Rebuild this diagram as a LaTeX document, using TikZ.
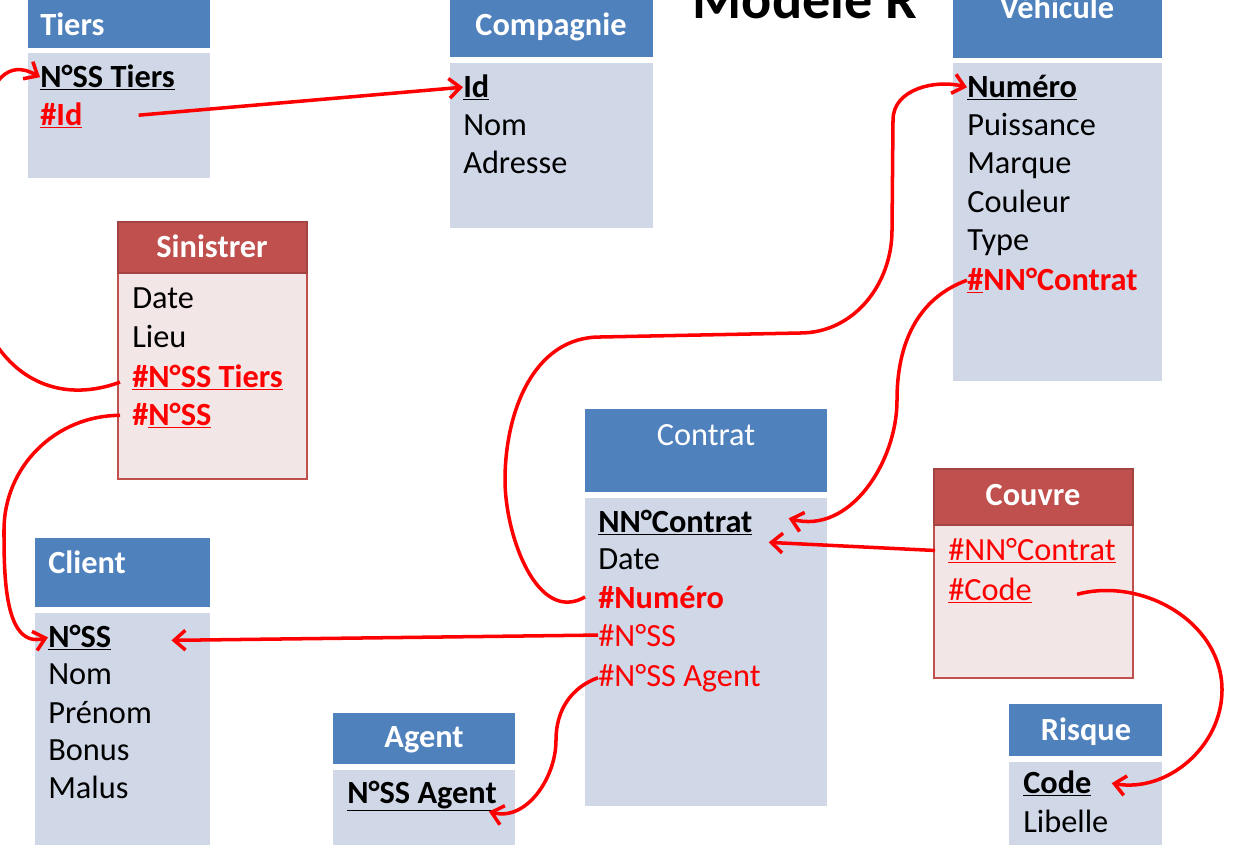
\documentclass[tikz,border=0pt]{standalone}
\usepackage{fontspec}
\setmainfont{Carlito}
\usetikzlibrary{arrows.meta,calc}
\definecolor{hdblue}{HTML}{4F81BD}
\definecolor{bdblue}{HTML}{D0D8E8}
\definecolor{hdred}{HTML}{C0504D}
\definecolor{bdred}{HTML}{F2E6E6}

\begin{document}
\begin{tikzpicture}[x=0.025cm,y=0.025cm,
  fld/.style={anchor=base west,inner sep=0pt,font=\fontsize{23}{27}\selectfont},
  fk/.style={fld,text=red},
  hd/.style={anchor=base,inner sep=0pt,text=white,font=\fontsize{23}{27}\selectfont\bfseries},
  link/.style={draw=red,line width=2.5pt,-{Straight Barb[length=8pt,width=14pt]}}]

\clip (0,0) rectangle (1246,-844);

% tables
\fill[hdblue] (28,0) rectangle (210,-48);
\fill[bdblue] (28,-53) rectangle (210,-178);
\fill[hdblue] (450,0) rectangle (653,-57);
\fill[bdblue] (450,-63) rectangle (653,-228);
\fill[hdblue] (953,0) rectangle (1162,-58);
\fill[bdblue] (953,-63) rectangle (1162,-381);
\filldraw[fill=bdred,draw=hdred,line width=0.8pt] (118,-273) rectangle (307,-479);
\filldraw[fill=hdred,draw=hdred!85!black,line width=0.8pt] (118,-222) rectangle (307,-273);
\fill[hdblue] (35,-538) rectangle (210,-607);
\fill[bdblue] (35,-613) rectangle (210,-850);
\fill[hdblue] (585,-409) rectangle (827,-492);
\fill[bdblue] (585,-498) rectangle (827,-806);
\filldraw[fill=bdred,draw=hdred,line width=0.8pt] (934,-525) rectangle (1133,-678);
\filldraw[fill=hdred,draw=hdred!85!black,line width=0.8pt] (934,-469) rectangle (1133,-525);
\fill[hdblue] (1009,-704) rectangle (1162,-756);
\fill[bdblue] (1009,-762) rectangle (1162,-850);
\fill[hdblue] (333,-713) rectangle (515,-764);
\fill[bdblue] (333,-770) rectangle (515,-850);

\node[anchor=base,font=\fontsize{40}{44}\selectfont\bfseries] (titre) at (805,-18) {Modèle R};

\node[hd,anchor=base west] (tiers) at (40,-35) {Tiers};
\node[fld] (tiers-nss) at (40,-87) {\underline{\textbf{N°SS Tiers}}};
\node[fk] (tiers-id) at (40,-125) {\underline{\textbf{\#Id}}};

\node[hd] (comp) at (551,-35) {Compagnie};
\node[fld] (comp-id) at (463,-97) {\underline{\textbf{Id}}};
\node[fld] (comp-nom) at (463,-135) {Nom};
\node[fld] (comp-adr) at (463,-173) {Adresse};

\node[hd] (veh) at (1057,-18) {Véhicule};
\node[fld] (veh-num) at (967,-97) {\underline{\textbf{Numéro}}};
\node[fld] (veh-puis) at (967,-135) {Puissance};
\node[fld] (veh-marq) at (967,-173) {Marque};
\node[fld] (veh-coul) at (967,-212) {Couleur};
\node[fld] (veh-type) at (967,-250) {Type};
\node[fk] (veh-nnc) at (967,-290) {\textbf{\underline{\#}NN°Contrat}};

\node[hd] (sin) at (212,-257) {Sinistrer};
\node[fld] (sin-date) at (132,-308) {Date};
\node[fld] (sin-lieu) at (132,-347) {Lieu};
\node[fk] (sin-tiers) at (132,-387) {\underline{\textbf{\#N°SS Tiers}}};
\node[fk] (sin-nss) at (132,-425) {\textbf{\#\underline{N°SS}}};

\node[hd,anchor=base west] (client) at (48,-573) {Client};
\node[fld] (client-nss) at (48,-647) {\underline{\textbf{N°SS}}};
\node[fld] (client-nom) at (48,-684) {Nom};
\node[fld] (client-pre) at (48,-723) {Prénom};
\node[fld] (client-bon) at (48,-760) {Bonus};
\node[fld] (client-mal) at (48,-798) {Malus};

\node[hd,font=\fontsize{23}{27}\selectfont] (contrat) at (706,-445) {Contrat};
\node[fld] (contrat-nnc) at (598,-532) {\underline{\textbf{NN°Contrat}}};
\node[fld] (contrat-date) at (598,-569) {Date};
\node[fk] (contrat-num) at (598,-608) {\textbf{\#Numéro}};
\node[fk] (contrat-nss) at (598,-646) {\#N°SS};
\node[fk] (contrat-nssa) at (598,-686) {\#N°SS Agent};

\node[hd] (couv) at (1033,-505) {Couvre};
\node[fk] (couv-nnc) at (948,-560) {\underline{\#NN°Contrat}};
\node[fk] (couv-code) at (948,-600) {\underline{\#Code}};

\node[hd] (risque) at (1086,-740) {Risque};
\node[fld] (risque-code) at (1023,-793) {\underline{\textbf{Code}}};
\node[fld] (risque-lib) at (1023,-832) {Libelle};

\node[hd] (agent) at (424,-747) {Agent};
\node[fld] (agent-nss) at (347,-803) {\underline{\textbf{N°SS Agent}}};

% links
\draw[link] ($(sin-tiers.west)+(-12,-5)$) to[out=200,in=-90,looseness=1.2] (-30,-250) to[out=90,in=150] (tiers-nss.west);
\draw[link] ($(tiers-id.east)+(56,0)$) -- (comp-id.west);
\draw[link] ($(contrat-num.west)+(-13,0)$) to[out=-150,in=-90] (505,-480) to[out=90,in=180] (600,-337)
  -- (800,-333) to[out=0,in=-90] (892,-230) -- (893,-120) to[out=90,in=165] (veh-num.west);
\draw[link] (veh-nnc.west) to[out=200,in=90] (897,-400) to[out=-90,in=-15] ($(contrat-nnc.east)+(36,4)$);
\draw[link] ($(couv-nnc.west)+(-13,0)$) -- ($(contrat-nnc.east)+(16,-20)$);
\draw[link] ($(couv-code.east)+(45,-4)$) to[out=15,in=90] (1222,-690) to[out=-90,in=-10] ($(risque-code.east)+(20,0)$);
\draw[link] (contrat-nss.west) -- ($(client-nss.east)+(60,-3)$);
\draw[link] (contrat-nssa.west) to[out=200,in=90] (556,-740) to[out=-90,in=-15] ($(agent-nss.south east)+(-8,0)$);
\draw[link] ($(sin-nss.west)+(-12,0)$) to[out=180,in=90] (4,-530) to[out=-90,in=195] (client-nss.west);

\end{tikzpicture}
\end{document}
